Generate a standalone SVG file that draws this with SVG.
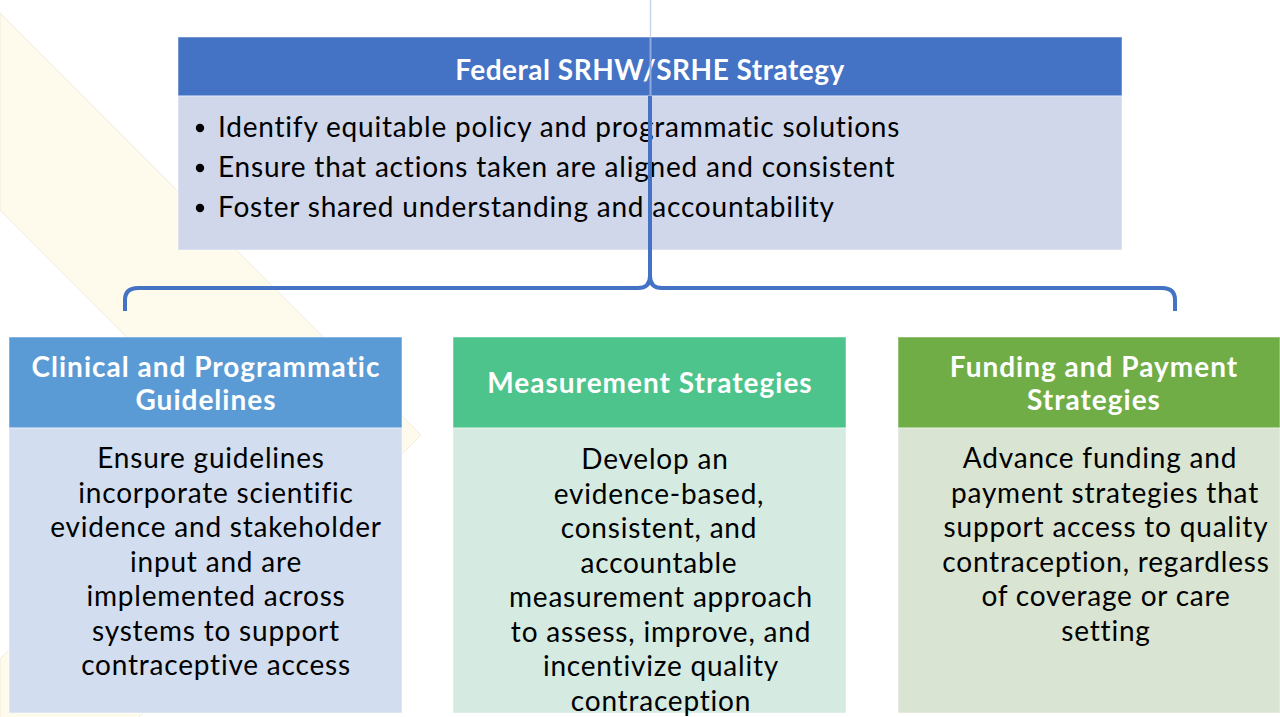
<svg xmlns="http://www.w3.org/2000/svg" width="1280" height="717" viewBox="0 0 1280 717">
<style>
.hd{font-family:Lato,"Open Sans","Liberation Sans",sans-serif;font-weight:bold;fill:#ffffff;text-anchor:middle;font-size:28px;letter-spacing:1px}
.bd{font-family:Lato,"Open Sans","Liberation Sans",sans-serif;fill:#000000;text-anchor:middle;font-size:28px;letter-spacing:0.8px}
.bl{font-family:Lato,"Open Sans","Liberation Sans",sans-serif;fill:#000000;font-size:28px;letter-spacing:0.8px}
.edge{stroke:#ffffff;stroke-opacity:0.5;stroke-width:1}
.conn{fill:none;stroke:#4472c4;stroke-width:4;stroke-linecap:butt}
</style>
<rect width="1280" height="717" fill="#ffffff"/>
<polygon points="0,13 421,435 0,856 0,659 224,435 0,210" fill="#fefaec" stroke="#e6e1d2" stroke-width="0.6"/>
<line x1="650.5" y1="0" x2="650.5" y2="37" stroke="#c9d6ee" stroke-width="1.5"/>

<g id="node-federal">
<rect x="178" y="37" width="944" height="59" fill="#4472c4" class="edge"/>
<rect x="178" y="96" width="944" height="154" fill="#d0d7eb" class="edge"/>
<text class="hd" x="650" y="80" style="letter-spacing:0.5px">Federal SRHW/SRHE Strategy</text>
<circle cx="200" cy="128" r="4.2" fill="#000"/>
<circle cx="200" cy="168" r="4.2" fill="#000"/>
<circle cx="200" cy="208" r="4.2" fill="#000"/>
<text class="bl" x="218" y="137">Identify equitable policy and programmatic solutions</text>
<text class="bl" x="218" y="177">Ensure that actions taken are aligned and consistent</text>
<text class="bl" x="218" y="217">Foster shared understanding and accountability</text>
</g>

<g id="connectors">
<line x1="650.5" y1="37" x2="650.5" y2="96" stroke="#8fa9dc" stroke-width="2"/>
<path class="conn" d="M125,311 V300 Q125,288 138,288 H638 Q650,288 650,276 V96"/>
<path class="conn" d="M1175,311 V300 Q1175,288 1162,288 H662 Q650,288 650,276"/>
</g>

<g id="node-clinical">
<rect x="9" y="337" width="393" height="91" fill="#5b9bd5" class="edge"/>
<rect x="9" y="428" width="393" height="285" fill="#d2deef" class="edge"/>
<text class="hd" x="206" y="377">Clinical and Programmatic</text>
<text class="hd" x="206" y="410">Guidelines</text>
<text class="bd" x="211" y="468">Ensure guidelines</text>
<text class="bd" x="216" y="502.5">incorporate scientific</text>
<text class="bd" x="216" y="537">evidence and stakeholder</text>
<text class="bd" x="216" y="571.5">input and are</text>
<text class="bd" x="216" y="606">implemented across</text>
<text class="bd" x="216" y="640.5">systems to support</text>
<text class="bd" x="216" y="675">contraceptive access</text>
</g>

<g id="node-measurement">
<rect x="453" y="337" width="393" height="91" fill="#4dc48c" class="edge"/>
<rect x="453" y="428" width="393" height="285" fill="#d5ebe2" class="edge"/>
<text class="hd" x="650" y="393">Measurement Strategies</text>
<text class="bd" x="655" y="469">Develop an</text>
<text class="bd" x="659" y="503.5">evidence-based,</text>
<text class="bd" x="659" y="538">consistent, and</text>
<text class="bd" x="659" y="572.5">accountable</text>
<text class="bd" x="661" y="607">measurement approach</text>
<text class="bd" x="661" y="641.5">to assess, improve, and</text>
<text class="bd" x="661" y="676">incentivize quality</text>
<text class="bd" x="661" y="710.5">contraception</text>
</g>

<g id="node-funding">
<rect x="898" y="337" width="382" height="91" fill="#70ad47" class="edge"/>
<rect x="898" y="428" width="382" height="285" fill="#d9e4d3" class="edge"/>
<text class="hd" x="1094" y="377">Funding and Payment</text>
<text class="hd" x="1094" y="410">Strategies</text>
<text class="bd" x="1100" y="468">Advance funding and</text>
<text class="bd" x="1105" y="502.5">payment strategies that</text>
<text class="bd" x="1106" y="537">support access to quality</text>
<text class="bd" x="1106" y="571.5">contraception, regardless</text>
<text class="bd" x="1106" y="606">of coverage or care</text>
<text class="bd" x="1106" y="640.5">setting</text>
</g>
</svg>
